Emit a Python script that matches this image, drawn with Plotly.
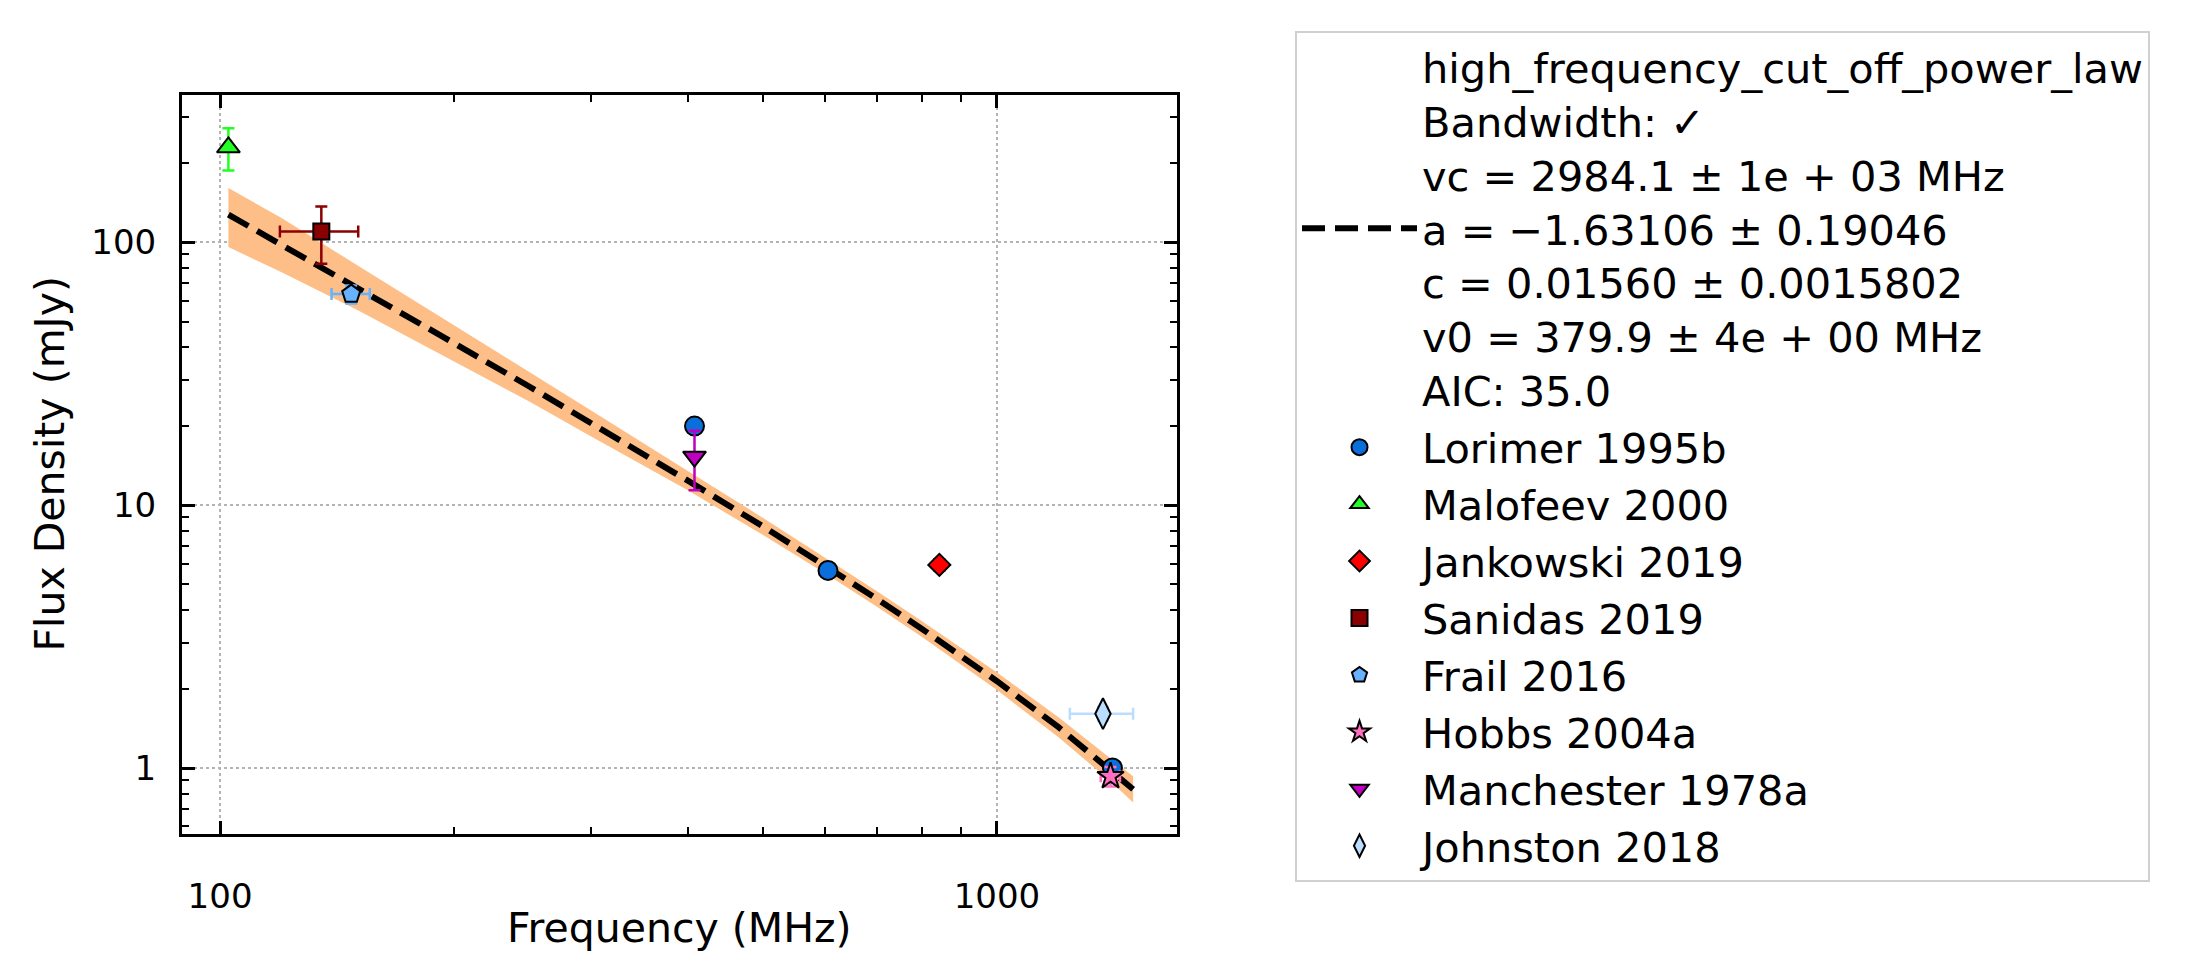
import plotly.graph_objects as go

# ---------------- data ----------------
lorimer_f = [408, 606, 1408]
lorimer_s = [20.0, 5.65, 1.0]
lorimer_ds = [0.8, 0.2, 0.04]

malofeev_f = [102.5]
malofeev_s = [230.0]
malofeev_ds = [42.0]

jankowski_f = [843]
jankowski_s = [5.93]
jankowski_ds = [0.3]
jankowski_df = [12]

sanidas_f = [135]
sanidas_s = [110.0]
sanidas_ds = [27.0]
sanidas_df = [15.6]

frail_f = [147.5]
frail_s = [63.6]
frail_ds = [5.0]
frail_df = [8.35]

hobbs_f = [1400]
hobbs_s = [0.93]
hobbs_ds = [0.08]
hobbs_df = [40]

manchester_f = [408]
manchester_s = [15.3]
manchester_ds = [3.9]

johnston_f = [1369]
johnston_s = [1.61]
johnston_ds = [0.1]
johnston_df = [128]

# fitted model curve and its uncertainty band
fit_f = [102.5, 120, 150, 200, 250, 300, 400, 500, 600, 700, 800, 1000, 1200, 1400, 1497]
fit_s = [127.6, 98.1, 67.5, 41.4, 28.3, 20.6, 12.4, 8.30, 5.91, 4.41, 3.39, 2.14, 1.43, 0.987, 0.830]
band_lo = [96, 77, 55.5, 35.4, 24.8, 18.3, 11.4, 7.7, 5.52, 4.12, 3.16, 1.98, 1.31, 0.89, 0.74]
band_hi = [161, 124, 82, 48.5, 32.3, 23.0, 13.5, 8.95, 6.32, 4.72, 3.63, 2.31, 1.56, 1.09, 0.93]

fit_label = ("high_frequency_cut_off_power_law<br>Bandwidth: ✓<br>"
             "vc = 2984.1 ± 1e + 03 MHz<br>a = −1.63106 ± 0.19046<br>"
             "c = 0.01560 ± 0.0015802<br>v0 = 379.9 ± 4e + 00 MHz<br>AIC: 35.0")

x_ticks = [100, 1000]
x_ticktext = ["100", "1000"]
y_ticks = [1, 10, 100]
y_ticktext = ["1", "10", "100"]

FONT = "DejaVu Sans"

fig = go.Figure()

# uncertainty band
fig.add_trace(go.Scatter(x=fit_f, y=band_lo, mode="lines", line=dict(width=0, color="#FDBF87"),
                         showlegend=False, hoverinfo="skip"))
fig.add_trace(go.Scatter(x=fit_f, y=band_hi, mode="lines", line=dict(width=0, color="#FDBF87"),
                         fill="tonexty", fillcolor="#FDBF87", showlegend=False, hoverinfo="skip"))
# fit line
fig.add_trace(go.Scatter(x=fit_f, y=fit_s, mode="lines", name=fit_label,
                         line=dict(color="black", width=6, dash="23px,10px")))


def add_points(name, f, s, ds, df, color, symbol, size):
    ex = dict(type="data", array=df, color=color, thickness=2.5, width=6, visible=True) if df else dict(visible=False)
    fig.add_trace(go.Scatter(
        x=f, y=s, mode="markers", name=name,
        marker=dict(color=color, symbol=symbol, size=size, line=dict(color="black", width=2)),
        error_y=dict(type="data", array=ds, color=color, thickness=2.5, width=6),
        error_x=ex,
    ))


add_points("Lorimer 1995b", lorimer_f, lorimer_s, lorimer_ds, None, "#0A6FDB", "circle", 19)
add_points("Malofeev 2000", malofeev_f, malofeev_s, malofeev_ds, None, "#22FF22", "triangle-up", 20)
add_points("Jankowski 2019", jankowski_f, jankowski_s, jankowski_ds, jankowski_df, "#FF0000", "diamond", 17)
add_points("Sanidas 2019", sanidas_f, sanidas_s, sanidas_ds, sanidas_df, "#8B0000", "square", 16)
add_points("Frail 2016", frail_f, frail_s, frail_ds, frail_df, "#66B2FF", "pentagon", 19)
add_points("Hobbs 2004a", hobbs_f, hobbs_s, hobbs_ds, hobbs_df, "#FF6EC0", "star", 20)
add_points("Manchester 1978a", manchester_f, manchester_s, manchester_ds, None, "#C000C0", "triangle-down", 20)
add_points("Johnston 2018", johnston_f, johnston_s, johnston_ds, johnston_df, "#BBDDFF", "diamond-tall", 22)

axis_common = dict(
    showline=True, linecolor="black", linewidth=3, mirror="allticks",
    ticks="inside", ticklen=13, tickwidth=2.5, tickcolor="black",
    showgrid=True, gridcolor="#b4b4b4", gridwidth=2, griddash="dot",
    zeroline=False,
    tickfont=dict(family=FONT, size=34, color="black"),
)

fig.update_xaxes(
    type="log", range=[1.951, 3.2317],
    tickvals=x_ticks, ticktext=x_ticktext, ticklabelstandoff=30,
    minor=dict(ticks="inside", ticklen=7, tickwidth=2, tickcolor="black",
               tickvals=[200, 300, 400, 500, 600, 700, 800, 900], showgrid=False),
    **axis_common,
)
fig.update_yaxes(
    type="log", range=[-0.251, 2.561],
    tickvals=y_ticks, ticktext=y_ticktext, ticklabelstandoff=16,
    minor=dict(ticks="inside", ticklen=7, tickwidth=2, tickcolor="black",
               tickvals=[0.6, 0.7, 0.8, 0.9, 2, 3, 4, 5, 6, 7, 8, 9,
                         20, 30, 40, 50, 60, 70, 80, 90, 200, 300], showgrid=False),
    **axis_common,
)

fig.add_annotation(text="Frequency (MHz)", xref="paper", yref="paper", x=0.5, y=0,
                   yshift=-94, showarrow=False, xanchor="center", yanchor="middle",
                   font=dict(family=FONT, size=41, color="black"))
fig.add_annotation(text="Flux Density (mJy)", xref="paper", yref="paper", x=0, y=0.5,
                   xshift=-133, showarrow=False, xanchor="center", yanchor="middle", textangle=-90,
                   font=dict(family=FONT, size=41, color="black"))

fig.update_layout(
    width=2198, height=980,
    margin=dict(l=182, r=1021, t=95, b=146),
    paper_bgcolor="white", plot_bgcolor="white",
    font=dict(family=FONT, color="black"),
    legend=dict(
        x=1.1186, y=1.0866, xanchor="left", yanchor="top",
        bordercolor="#d0d0d0", borderwidth=2, bgcolor="white",
        font=dict(family=FONT, size=41.5, color="black"),
        itemwidth=115, valign="middle", traceorder="normal",
        maxheight=960,
    ),
)

fig.write_html("out.html")
